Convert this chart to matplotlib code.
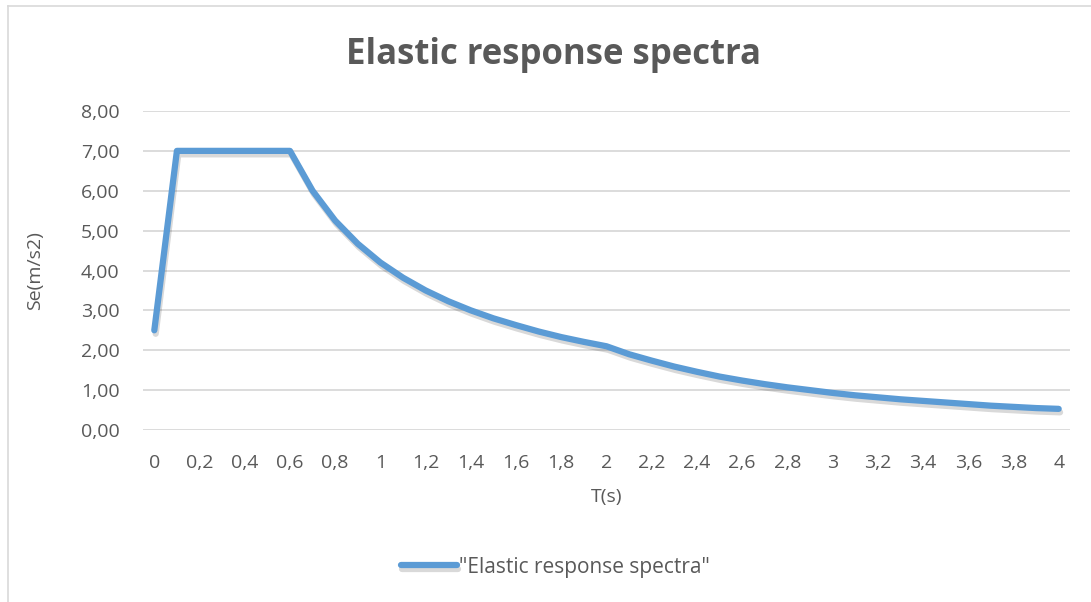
import matplotlib
matplotlib.use("Agg")
import matplotlib.pyplot as plt
import matplotlib.patheffects as pe
from matplotlib.lines import Line2D

# period T (s) and spectral acceleration Se (m/s2)
T = [0.0, 0.1, 0.2, 0.3, 0.4, 0.5, 0.6, 0.7, 0.8, 0.9,
     1.0, 1.1, 1.2, 1.3, 1.4, 1.5, 1.6, 1.7, 1.8, 1.9,
     2.0, 2.1, 2.2, 2.3, 2.4, 2.5, 2.6, 2.7, 2.8, 2.9,
     3.0, 3.1, 3.2, 3.3, 3.4, 3.5, 3.6, 3.7, 3.8, 3.9, 4.0]
SE = [2.50, 7.00, 7.00, 7.00, 7.00, 7.00, 7.00, 6.00, 5.25, 4.67,
      4.20, 3.82, 3.50, 3.23, 3.00, 2.80, 2.63, 2.47, 2.33, 2.21,
      2.10, 1.90, 1.74, 1.59, 1.46, 1.34, 1.24, 1.15, 1.07, 1.00,
      0.93, 0.87, 0.82, 0.77, 0.73, 0.69, 0.65, 0.61, 0.58, 0.55, 0.53]
Y_TICKS = [0, 1, 2, 3, 4, 5, 6, 7, 8]

TITLE = "Elastic response spectra"
SERIES = '"Elastic response spectra"'

plt.rcParams["font.family"] = ["Open Sans", "DejaVu Sans"]
TXT = "#595959"
GRID = "#D9D9D9"
BLUE = "#5B9BD5"

fig = plt.figure(figsize=(10.91, 6.02), dpi=100)
ax = fig.add_axes([143 / 1091, 1 - 430 / 602, 927 / 1091, 319 / 602])

# category axis: one slot per T value
idx = list(range(len(T)))
ax.plot(idx, SE, color=BLUE, linewidth=4.5, solid_capstyle="round",
        solid_joinstyle="round", label=SERIES,
        path_effects=[pe.SimpleLineShadow(offset=(1, -2.5), shadow_color="#000000", alpha=0.15),
                      pe.Normal()])

ax.set_xlim(-0.5, len(T) - 0.5)
ax.set_ylim(0, 8)
ax.set_yticks(Y_TICKS)
ax.set_yticklabels([f"{v:.2f}".replace(".", ",") for v in Y_TICKS])
xt = idx[::2]
ax.set_xticks(xt)
ax.set_xticklabels([f"{T[i]:g}".replace(".", ",") for i in xt])

ax.grid(axis="y", color=GRID, linewidth=1.3)
ax.set_axisbelow(True)
for s in ax.spines.values():
    s.set_visible(False)
ax.tick_params(length=0, labelsize=14, colors=TXT)
ax.tick_params(axis="x", pad=17)
ax.tick_params(axis="y", pad=17)

ax.set_xlabel("T(s)", fontsize=14, color=TXT, labelpad=12)
ax.set_ylabel("Se(m/s2)", fontsize=14, color=TXT, labelpad=26)

fig.text(0.507, 1 - 55 / 602, TITLE, ha="center", va="center",
         fontsize=25, fontweight="bold", color=TXT)

fig.legend(loc="center", bbox_to_anchor=(0.509, 1 - 567 / 602), frameon=False,
           fontsize=15, handlelength=2.7, handletextpad=0.1, labelcolor=TXT)

# chart border (left and top edges are the only ones in view)
fig.add_artist(Line2D([7.5 / 1091, 7.5 / 1091], [0, 1 - 5.5 / 602], color=GRID, linewidth=1.2))
fig.add_artist(Line2D([7.5 / 1091, 1], [1 - 5.5 / 602, 1 - 5.5 / 602], color=GRID, linewidth=1.2))

fig.savefig("out.png", dpi=100)
